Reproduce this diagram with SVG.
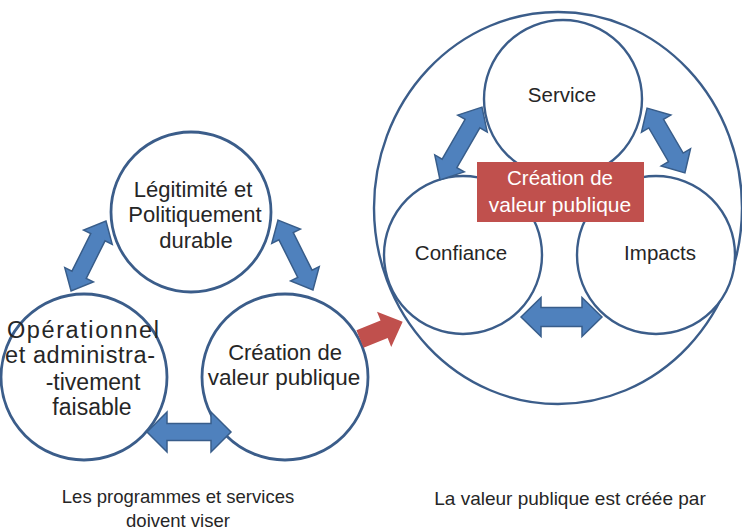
<svg xmlns="http://www.w3.org/2000/svg" width="742" height="532" viewBox="0 0 742 532">
<style>
.c{fill:#fff;stroke:#3B5D8A;stroke-width:2.8}
.c2{fill:#fff;stroke:#3B5D8A;stroke-width:2.4}
.t{font-family:"Liberation Sans",Arial,sans-serif;fill:#262626;text-anchor:middle}
.ar{fill:#4F81BD;stroke:#385D8A;stroke-width:1.5;stroke-linejoin:miter}
.rd{fill:#C0504D}
.wt{fill:#fff}
</style>
<rect width="742" height="532" fill="#fff"/>

<g id="left-top">
<circle class="c" cx="191" cy="212" r="80"/>
<text class="t" font-size="22" x="193" y="197">Légitimité et</text>
<text class="t" font-size="22" x="195" y="222">Politiquement</text>
<text class="t" font-size="22" x="196" y="248">durable</text>
</g>
<g id="left-bottom-left">
<circle class="c" cx="84" cy="377" r="83"/>
<text class="t" font-size="23.5" x="83" y="338" textLength="152" lengthAdjust="spacing">Opérationnel</text>
<text class="t" font-size="23.5" x="80" y="363" textLength="150" lengthAdjust="spacing">et administra-</text>
<text class="t" font-size="23" x="93" y="390">-tivement</text>
<text class="t" font-size="23" x="92" y="415">faisable</text>
</g>
<g id="left-bottom-right">
<circle class="c" cx="285" cy="377" r="83"/>
<text class="t" font-size="22" x="285" y="360">Création de</text>
<text class="t" font-size="22.5" x="284" y="385">valeur publique</text>
</g>

<g id="outer">
<ellipse class="c2" cx="558" cy="208" rx="184" ry="196"/>
</g>
<g id="service">
<circle class="c2" cx="563" cy="99" r="79"/>
<text class="t" font-size="20.5" x="562" y="102">Service</text>
</g>
<g id="confiance">
<circle class="c2" cx="463" cy="255" r="79"/>
<text class="t" font-size="20.5" x="461" y="260">Confiance</text>
</g>
<g id="impacts">
<circle class="c2" cx="656" cy="255" r="79"/>
<text class="t" font-size="20.5" x="660" y="260">Impacts</text>
</g>

<g id="connectors">
<path class="ar" transform="translate(88.5,256) rotate(-63.4)" d="M-39,0 L-21,-16 V-8 H21 V-16 L39,0 L21,16 V8 H-21 V16 Z"/>
<path class="ar" transform="translate(295.5,255) rotate(63.4)" d="M-39,0 L-21,-16 V-8 H21 V-16 L39,0 L21,16 V8 H-21 V16 Z"/>
<path class="ar" transform="translate(189,432)" d="M-42,0 L-22,-20 V-8.5 H22 V-20 L42,0 L22,20 V8.5 H-22 V20 Z"/>
<path class="ar" transform="translate(461,143.5) rotate(-60)" d="M-42,0 L-23,-17 V-8.5 H23 V-17 L42,0 L23,17 V8.5 H-23 V17 Z"/>
<path class="ar" transform="translate(666,140.5) rotate(59.7)" d="M-37.5,0 L-19.5,-17 V-8.5 H19.5 V-17 L37.5,0 L19.5,17 V8.5 H-19.5 V17 Z"/>
<path class="ar" transform="translate(561.5,317)" d="M-40.5,0 L-20.5,-19.5 V-9.5 H20.5 V-19.5 L40.5,0 L20.5,19.5 V9.5 H-20.5 V19.5 Z"/>
<path class="rd" transform="translate(360,339) rotate(-22)" d="M0,-9.5 H26 V-19 L46,0 L26,19 V9.5 H0 Z"/>
</g>

<g id="center-box">
<rect class="rd" x="477" y="162" width="167" height="60"/>
<text class="t" font-size="20.5" x="560" y="185" style="fill:#fff">Création de</text>
<text class="t" font-size="21" x="560" y="212" style="fill:#fff">valeur publique</text>
</g>

<g id="captions">
<text class="t" font-size="18.5" x="178" y="503">Les programmes et services</text>
<text class="t" font-size="18.5" x="178" y="527">doivent viser</text>
<text class="t" font-size="19" x="570" y="505">La valeur publique est créée par</text>
</g>
</svg>
